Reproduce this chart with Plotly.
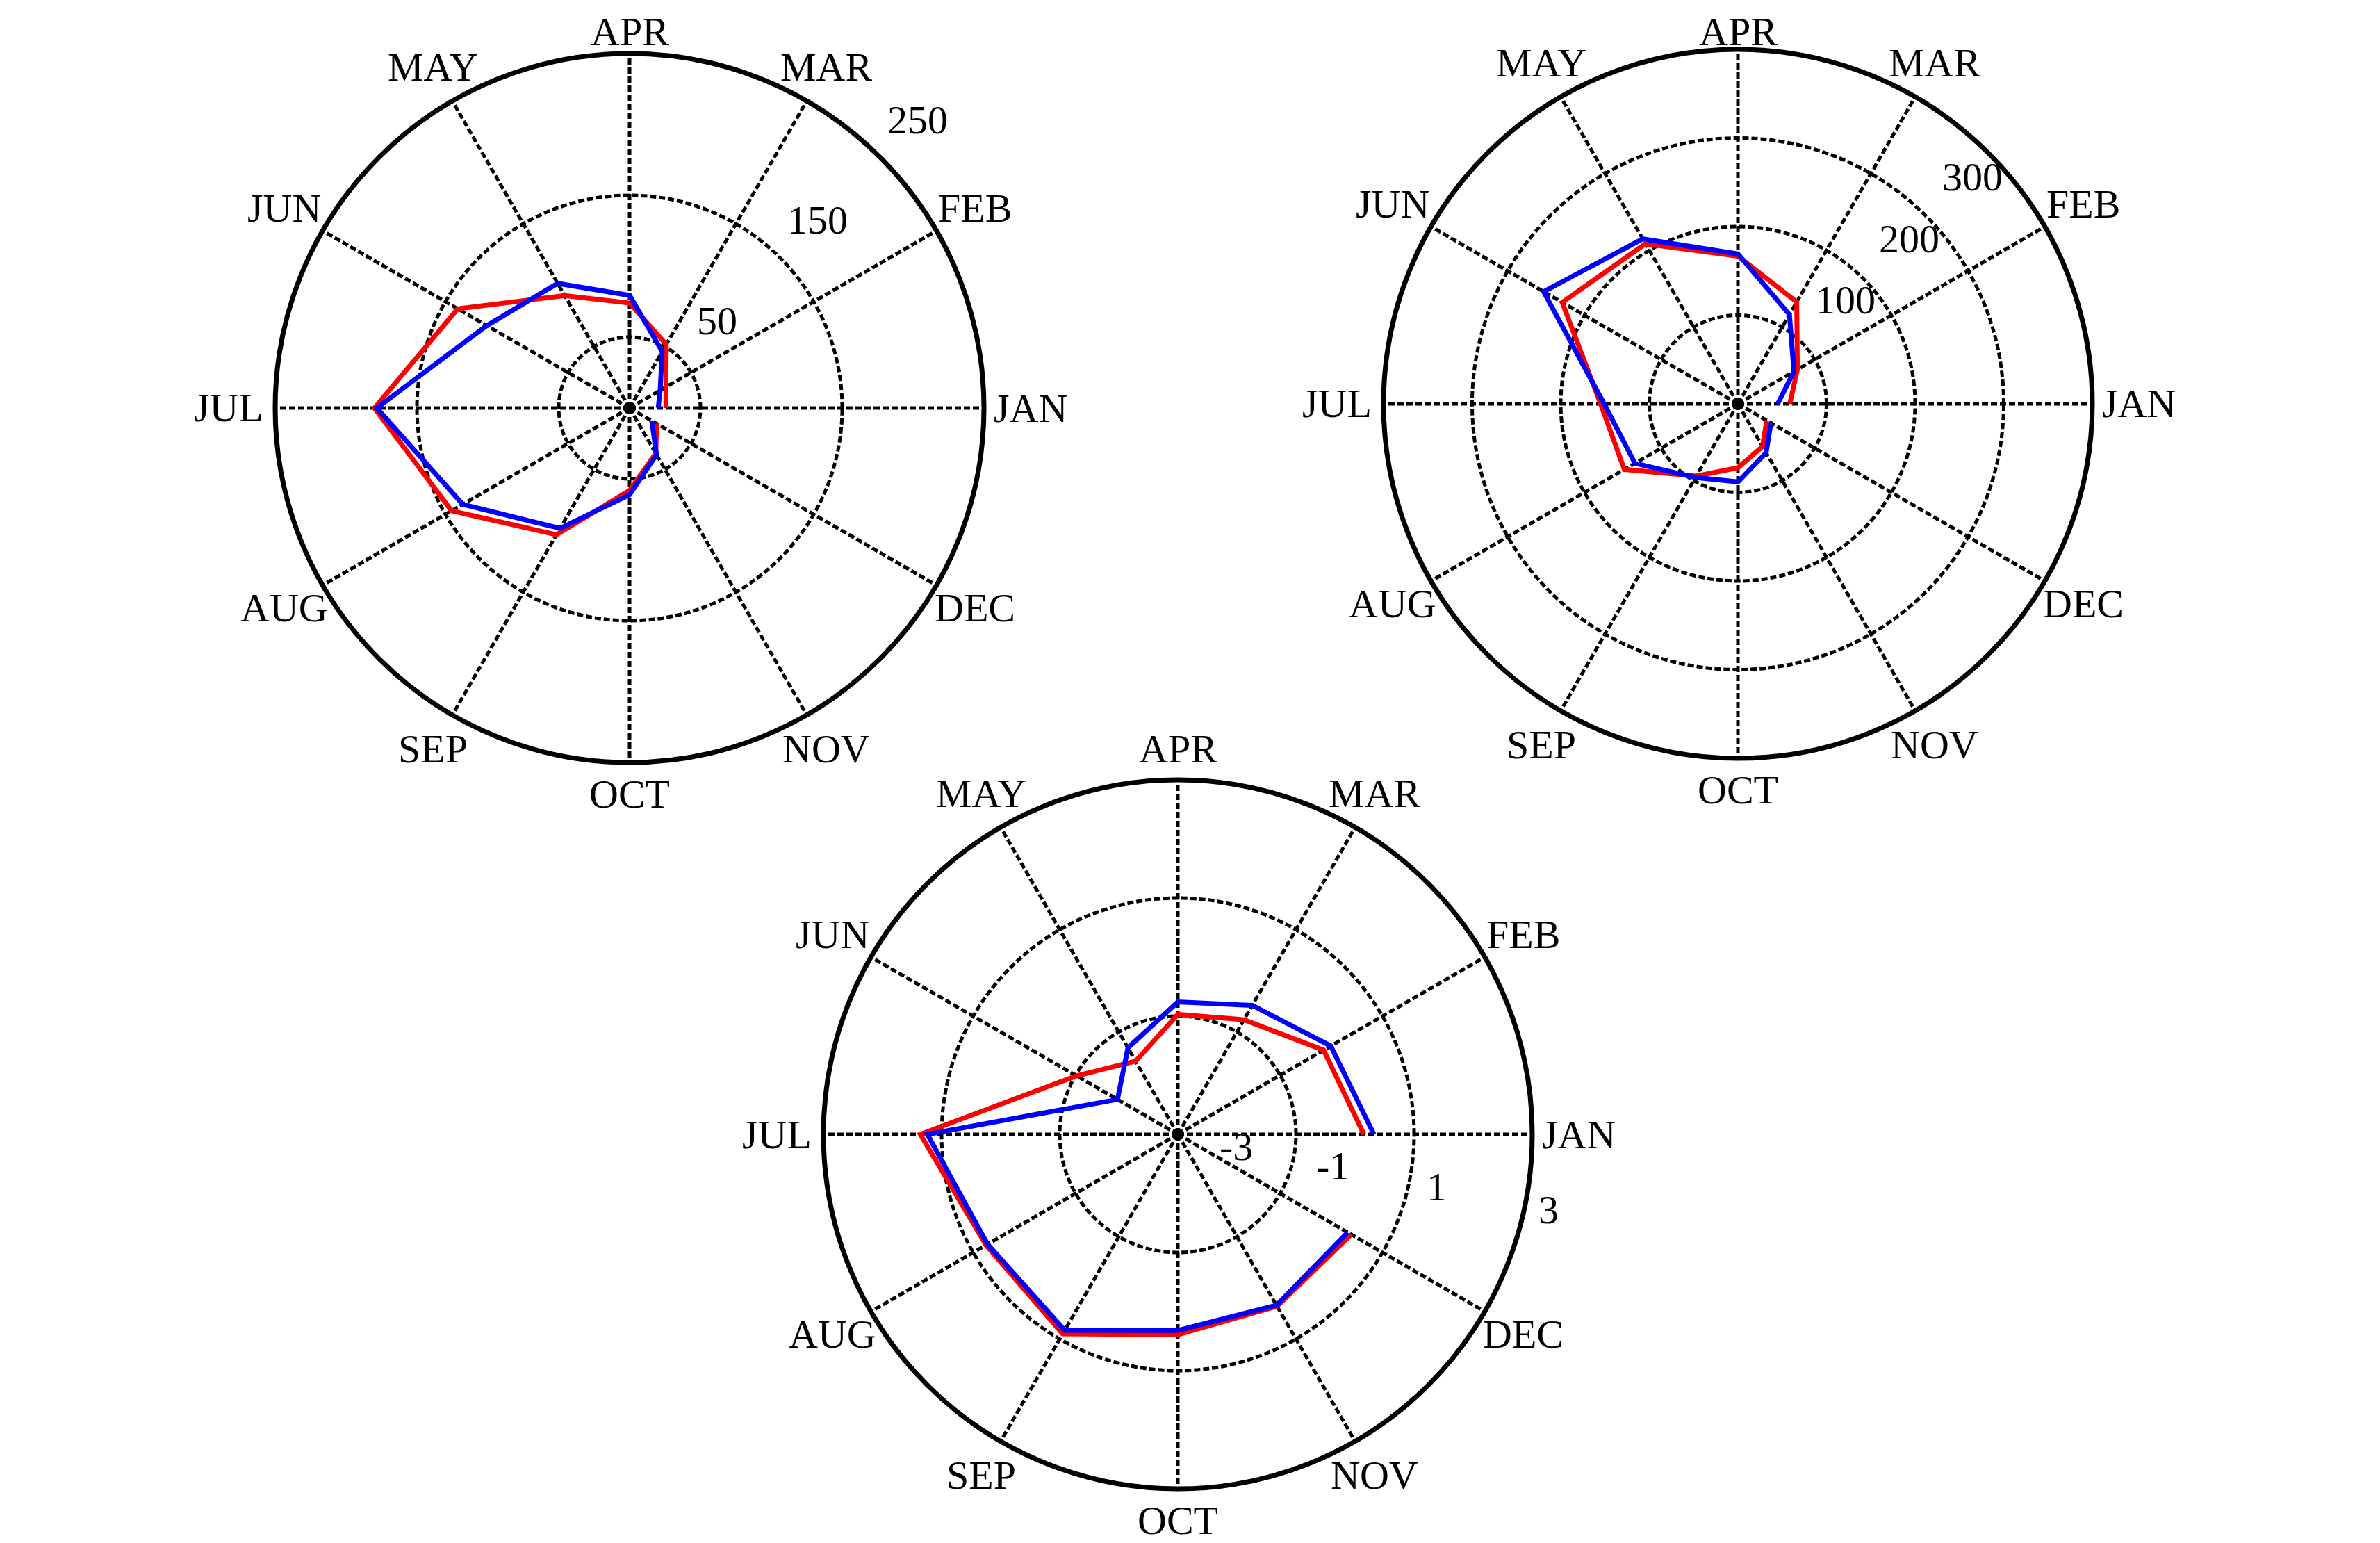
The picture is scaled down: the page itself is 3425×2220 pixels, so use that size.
import math
import plotly.graph_objects as go

W, H = 3425, 2220
PAGE_OFF = 8  # browser default body margin (px)

months = ["JAN", "FEB", "MAR", "APR", "MAY", "JUN",
          "JUL", "AUG", "SEP", "OCT", "NOV", "DEC"]

# Panel 1 (top left)
p1_red = [25.6, 29.6, 51.8, 74.0, 91.5, 140.0, 180.0, 145.0, 103.2, 58.1, 37.0, 22.0]
p1_blue = [20.2, 24.9, 46.0, 79.4, 101.5, 116.3, 178.3, 135.9, 98.0, 61.2, 38.0, 18.1]
p1_range = [0, 250]
p1_grid = [50, 150]
p1_ticks = [50, 150, 250]

# Panel 2 (top right)
p2_red = [58.6, 77.5, 132.7, 166.7, 208.6, 229.0, 155.0, 148.0, 94.2, 72.1, 55.6, 37.5]
p2_blue = [44.9, 73.0, 116.3, 169.2, 214.9, 253.2, 151.0, 134.2, 96.0, 88.1, 63.7, 43.0]
p2_range = [0, 400]
p2_grid = [100, 200, 300]
p2_ticks = [100, 200, 300]

# Panel 3 (bottom)
p3_red = [0.15, -0.15, -0.76, -0.97, -1.57, -1.02, 1.36, 0.75, 0.90, 0.39, 0.36, 0.39]
p3_blue = [0.32, -0.01, -0.48, -0.76, -1.31, -1.82, 1.24, 0.72, 0.83, 0.32, 0.34, 0.32]
p3_range = [-3, 3]
p3_grid = [-1, 1]
p3_ticks = [-3, -1, 1, 3]

angles = [360 / len(months) * i for i in range(len(months))]

FONT = "Liberation Serif"
FS = 58
R_PX = 510
GRID_DASH = "9px,4px"
GRID_W = 5
MIN_LABEL_Y = 45  # keep top labels fully inside the page

panels = [
    dict(cx=906, cy=587, red=p1_red, blue=p1_blue, rng=p1_range, grid=p1_grid,
         ticks=p1_ticks, lab_ang=45, pad_base=76, pad_extra=0),
    dict(cx=2501, cy=581, red=p2_red, blue=p2_blue, rng=p2_range, grid=p2_grid,
         ticks=p2_ticks, lab_ang=44, pad_base=87, pad_extra=0),
    dict(cx=1695, cy=1632, red=p3_red, blue=p3_blue, rng=p3_range, grid=p3_grid,
         ticks=p3_ticks, lab_ang=-11.5, pad_base=34, pad_extra=52),
]


def to_paper(sx, sy):
    return (sx - PAGE_OFF) / W, 1 - (sy - PAGE_OFF) / H


fig = go.Figure()
layout_polars = {}
annotations = []
for k, p in enumerate(panels):
    name = "polar" if k == 0 else f"polar{k+1}"
    lo, hi = p["rng"]
    fig.add_trace(go.Scatterpolar(r=p["red"], theta=angles, mode="lines",
                                  line=dict(color="#ff0000", width=7),
                                  subplot=name, showlegend=False, hoverinfo="skip"))
    fig.add_trace(go.Scatterpolar(r=p["blue"], theta=angles, mode="lines",
                                  line=dict(color="#0000ff", width=7),
                                  subplot=name, showlegend=False, hoverinfo="skip"))
    x0, y1 = to_paper(p["cx"] - R_PX, p["cy"] - R_PX)
    x1, y0 = to_paper(p["cx"] + R_PX, p["cy"] + R_PX)
    layout_polars[name] = dict(
        domain=dict(x=[x0, x1], y=[y0, y1]),
        bgcolor="white",
        radialaxis=dict(range=p["rng"], tickmode="array", tickvals=p["grid"],
                        showticklabels=False, ticks="", showline=False,
                        gridcolor="black", gridwidth=GRID_W, griddash=GRID_DASH),
        angularaxis=dict(tickmode="array", tickvals=angles, ticktext=months,
                         direction="counterclockwise", rotation=0,
                         showline=True, linecolor="black", linewidth=7,
                         gridcolor="black", gridwidth=GRID_W, griddash=GRID_DASH,
                         ticks="", showticklabels=False),
    )
    # month labels around the rim
    for ang, m in zip(angles, months):
        t = math.radians(ang)
        rho = R_PX + 45 + 22 * abs(math.cos(t))
        sy = max(p["cy"] - rho * math.sin(t), MIN_LABEL_Y)
        px, py = to_paper(p["cx"] + rho * math.cos(t), sy)
        annotations.append(dict(x=px, y=py, xref="paper", yref="paper", text=m,
                                showarrow=False, xanchor="center", yanchor="middle",
                                font=dict(family=FONT, size=FS, color="black")))
    # radial value labels
    a = math.radians(p["lab_ang"])
    for tv in p["ticks"]:
        frac = (tv - lo) / (hi - lo)
        rho = frac * R_PX + p["pad_base"] + p["pad_extra"] * (1 - frac) ** 2
        px, py = to_paper(p["cx"] + rho * math.cos(a), p["cy"] - rho * math.sin(a))
        annotations.append(dict(x=px, y=py, xref="paper", yref="paper", text=str(tv),
                                showarrow=False, xanchor="center", yanchor="middle",
                                font=dict(family=FONT, size=FS, color="black")))

fig.update_layout(width=W, height=H, margin=dict(l=0, r=0, t=0, b=0),
                  paper_bgcolor="white", plot_bgcolor="white",
                  showlegend=False, annotations=annotations, **layout_polars)

fig.write_html("out.html")
